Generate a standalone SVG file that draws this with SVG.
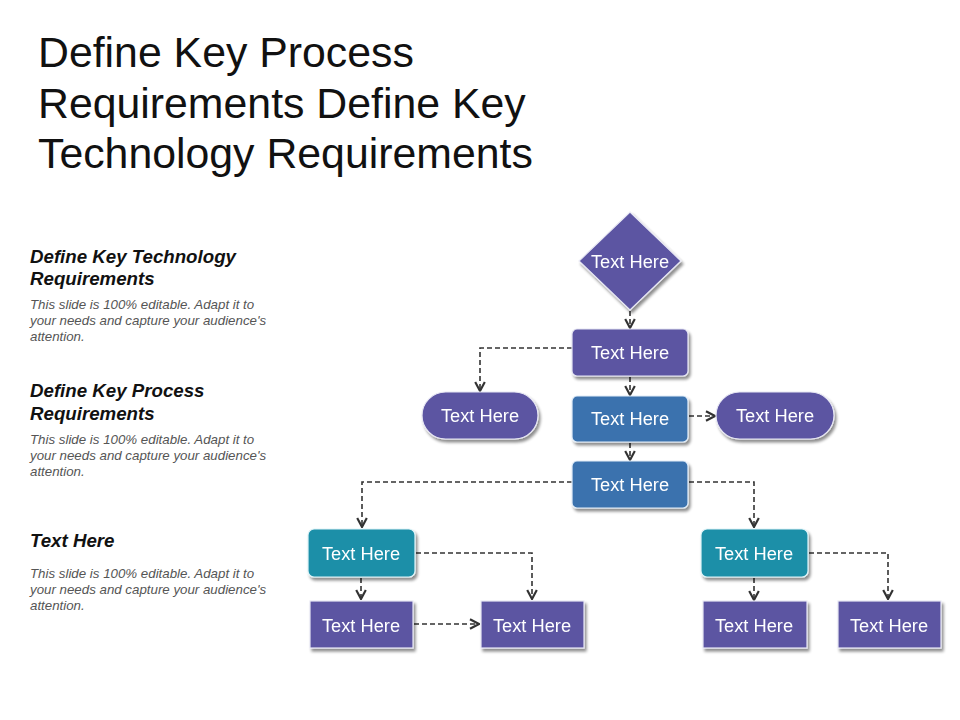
<svg xmlns="http://www.w3.org/2000/svg" width="960" height="720" viewBox="0 0 960 720">
<style>
.title{font-family:"Liberation Sans",Arial,sans-serif;font-size:42.8px;fill:#111}
.hd{font-family:"Liberation Sans",Arial,sans-serif;font-size:18.7px;font-weight:bold;font-style:italic;fill:#111}
.bd{font-family:"Liberation Sans",Arial,sans-serif;font-size:13.3px;font-style:italic;fill:#555}
.nt{font-family:"Liberation Sans",Arial,sans-serif;font-size:18.3px;fill:#fff;text-anchor:middle}
.purple{fill:#5b54a2;stroke:#e8e8f4;stroke-width:1.2}
.blue{fill:#3a72ae;stroke:#e4eef8;stroke-width:1.2}
.teal{fill:#1b8fa8;stroke:#e0f4f8;stroke-width:1.2}
.con{fill:none;stroke:#333;stroke-width:1.6;stroke-dasharray:5 3;marker-end:url(#arr)}
</style>
<defs>
<marker id="arr" viewBox="0 0 10 10" refX="9" refY="5" markerWidth="12" markerHeight="12" markerUnits="userSpaceOnUse" orient="auto">
<path d="M1.5,1 L9,5 L1.5,9" fill="none" stroke="#333" stroke-width="1.8"/>
</marker>
<filter id="sh" x="-20%" y="-20%" width="140%" height="150%">
<feGaussianBlur in="SourceAlpha" stdDeviation="1.5"/>
<feOffset dx="2" dy="3" result="b"/>
<feComponentTransfer><feFuncA type="linear" slope="0.45"/></feComponentTransfer>
<feMerge><feMergeNode/><feMergeNode in="SourceGraphic"/></feMerge>
</filter>
</defs>
<rect width="960" height="720" fill="#fff"/>
<g id="title">
<text class="title" x="38" y="67">Define Key Process</text>
<text class="title" x="38" y="118">Requirements Define Key</text>
<text class="title" x="38" y="168">Technology Requirements</text>
</g>
<g id="side-1">
<text class="hd" x="30" y="263">Define Key Technology</text>
<text class="hd" x="30" y="285">Requirements</text>
<text class="bd" x="30" y="309">This slide is 100% editable. Adapt it to</text>
<text class="bd" x="30" y="325">your needs and capture your audience's</text>
<text class="bd" x="30" y="341">attention.</text>
</g>
<g id="side-2">
<text class="hd" x="30" y="397">Define Key Process</text>
<text class="hd" x="30" y="420">Requirements</text>
<text class="bd" x="30" y="444">This slide is 100% editable. Adapt it to</text>
<text class="bd" x="30" y="460">your needs and capture your audience's</text>
<text class="bd" x="30" y="476">attention.</text>
</g>
<g id="side-3">
<text class="hd" x="30" y="547">Text Here</text>
<text class="bd" x="30" y="578">This slide is 100% editable. Adapt it to</text>
<text class="bd" x="30" y="594">your needs and capture your audience's</text>
<text class="bd" x="30" y="610">attention.</text>
</g>
<g id="connectors">
<path class="con" d="M630,311 V328"/>
<path class="con" d="M572,348 H480 V391"/>
<path class="con" d="M630,377 V395"/>
<path class="con" d="M689,416 H715"/>
<path class="con" d="M630,443 V460"/>
<path class="con" d="M572,482 H362 V527"/>
<path class="con" d="M689,482 H754 V527"/>
<path class="con" d="M416,553 H532 V599"/>
<path class="con" d="M361,578 V599"/>
<path class="con" d="M414,624 H479"/>
<path class="con" d="M809,553 H888 V599"/>
<path class="con" d="M754,578 V600"/>
</g>
<g id="n-diamond" filter="url(#sh)">
<polygon class="purple" points="630,212 681,261 630,310 579,261"/>
<text class="nt" x="630" y="268">Text Here</text>
</g>
<g id="n-box1" filter="url(#sh)">
<rect class="purple" x="572" y="329" width="116" height="47" rx="5"/>
<text class="nt" x="630" y="359">Text Here</text>
</g>
<g id="n-pill-left" filter="url(#sh)">
<rect class="purple" x="422" y="392" width="116" height="47" rx="23.5"/>
<text class="nt" x="480" y="422">Text Here</text>
</g>
<g id="n-box2" filter="url(#sh)">
<rect class="blue" x="572" y="396" width="116" height="46" rx="5"/>
<text class="nt" x="630" y="425">Text Here</text>
</g>
<g id="n-pill-right" filter="url(#sh)">
<rect class="purple" x="716" y="392" width="118" height="47" rx="23.5"/>
<text class="nt" x="775" y="422">Text Here</text>
</g>
<g id="n-box3" filter="url(#sh)">
<rect class="blue" x="572" y="461" width="116" height="47" rx="5"/>
<text class="nt" x="630" y="491">Text Here</text>
</g>
<g id="n-teal-left" filter="url(#sh)">
<rect class="teal" x="308" y="529" width="107" height="48" rx="6"/>
<text class="nt" x="361" y="560">Text Here</text>
</g>
<g id="n-teal-right" filter="url(#sh)">
<rect class="teal" x="701" y="529" width="107" height="48" rx="6"/>
<text class="nt" x="754" y="560">Text Here</text>
</g>
<g id="n-bottom-1" filter="url(#sh)">
<rect class="purple" x="310" y="601" width="103" height="47"/>
<text class="nt" x="361" y="632">Text Here</text>
</g>
<g id="n-bottom-2" filter="url(#sh)">
<rect class="purple" x="481" y="601" width="103" height="47"/>
<text class="nt" x="532" y="632">Text Here</text>
</g>
<g id="n-bottom-3" filter="url(#sh)">
<rect class="purple" x="703" y="601" width="104" height="47"/>
<text class="nt" x="754" y="632">Text Here</text>
</g>
<g id="n-bottom-4" filter="url(#sh)">
<rect class="purple" x="838" y="601" width="103" height="47"/>
<text class="nt" x="889" y="632">Text Here</text>
</g>
</svg>
